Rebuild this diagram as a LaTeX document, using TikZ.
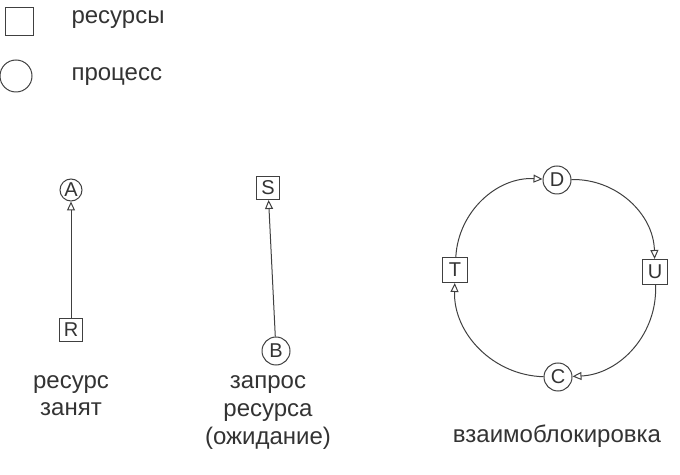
\documentclass[tikz,border=0pt]{standalone}
\usepackage{fontspec}
\setmainfont{Liberation Sans}
\usetikzlibrary{arrows.meta}

\begin{document}
\begin{tikzpicture}
[x=1pt, y=1pt,
every node/.style={font=\fontsize{24}{28}\selectfont, text=black!80, align=center},
res/.style={draw=black!75, line width=1pt, minimum size=23pt, inner sep=0pt, font=\fontsize{20}{22}\selectfont},
proc/.style={res, circle, minimum size=22pt},
link/.style={draw=black!75, line width=1pt, -{Triangle[open,width=8pt,length=9pt]}},
]
\useasboundingbox (0,0) rectangle (680,474);
\node[res, minimum size=28pt] (keyres) at (19,452) {};
\node[anchor=base west] (keyrestext) at (68,450) {ресурсы};
\node[proc, minimum size=32pt] (keyproc) at (16,398) {};
\node[anchor=base west] (keyproctext) at (68,393) {процесс};

\node[proc] (A) at (71,284) {A};
\node[res] (R) at (71,144) {R};
\node[anchor=base] (held) at (71,58) {ресурс\\занят};
\draw[link] (R) -- (A);

\node[res] (S) at (268,286) {S};
\node[proc, minimum size=28pt] (B) at (276,123) {B};
\node[anchor=base] (wait) at (268,30) {запрос\\ресурса\\(ожидание)};
\draw[link] (B) -- (S);

\node[proc, minimum size=28pt] (D) at (557,294) {D};
\node[res, minimum size=25pt] (U) at (655,202) {U};
\node[proc, minimum size=28pt] (C) at (558,97) {C};
\node[res, minimum size=25pt] (T) at (455,204) {T};
\node[anchor=base] (lock) at (557,31) {взаимоблокировка};
\draw[link] (T) to[bend left=45] (D);
\draw[link] (D) to[bend left=45] (U);
\draw[link] (U) to[bend left=45] (C);
\draw[link] (C) to[bend left=45] (T);
\end{tikzpicture}
\end{document}
